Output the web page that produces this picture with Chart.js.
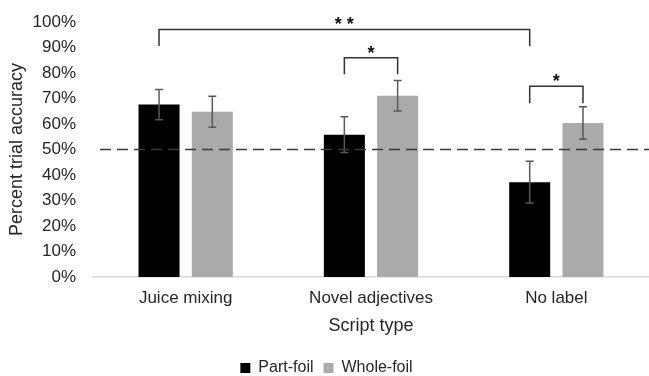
<!DOCTYPE html>
<html>
<head>
<meta charset="utf-8">
<script src="https://cdn.jsdelivr.net/npm/chart.js@4.4.1/dist/chart.umd.min.js"></script>
<style>
  html, body { margin: 0; padding: 0; background: #fff; }
  #wrap { width: 649px; height: 376px; position: relative; }
</style>
</head>
<body>
<div id="wrap"><canvas id="chart"></canvas></div>
<script>
// categories and series
const categories = ['Juice mixing', 'Novel adjectives', 'No label']
const partFoil = [67.6, 55.8, 37.2]
const wholeFoil = [64.8, 71.1, 60.4]
// error bar half-widths
const partFoilErr = [5.9, 7.0, 8.2]
const wholeFoilErr = [6.1, 6.0, 6.4]
const yTicks = [0, 10, 20, 30, 40, 50, 60, 70, 80, 90, 100]
const chanceLevel = 50

// significance brackets: [category, dataset] ends, top value, leg bottom value
const brackets = [
    { from: [0, 0], to: [2, 0], top: 97.1, leg: 90.6, label: '**' },
    { from: [1, 0], to: [1, 1], top: 86.0, leg: 79.5, label: '*' },
    { from: [2, 0], to: [2, 1], top: 74.8, leg: 68.1, label: '*' }
]

const fontFamily = '"Liberation Sans", Arial, sans-serif'
const textColor = '#262626'

const errorBarPlugin = {
    id: 'errorBars',
    afterDatasetsDraw(chart) {
        const ctx = chart.ctx
        const y = chart.scales.y
        const errs = [partFoilErr, wholeFoilErr]
        ctx.save()
        ctx.strokeStyle = '#595959'
        ctx.lineWidth = 1.5
        chart.data.datasets.forEach((ds, di) => {
            const meta = chart.getDatasetMeta(di)
            meta.data.forEach((bar, i) => {
                const v = ds.data[i]
                const e = errs[di][i]
                const top = y.getPixelForValue(v + e)
                const bot = y.getPixelForValue(v - e)
                ctx.beginPath()
                ctx.moveTo(bar.x, top)
                ctx.lineTo(bar.x, bot)
                ctx.moveTo(bar.x - 4, top)
                ctx.lineTo(bar.x + 4, top)
                ctx.moveTo(bar.x - 4, bot)
                ctx.lineTo(bar.x + 4, bot)
                ctx.stroke()
            })
        })
        ctx.restore()
    }
}

const chancePlugin = {
    id: 'chanceLine',
    afterDatasetsDraw(chart) {
        const ctx = chart.ctx
        const area = chart.chartArea
        const yy = chart.scales.y.getPixelForValue(chanceLevel)
        ctx.save()
        ctx.strokeStyle = '#3a3a3a'
        ctx.lineWidth = 1.5
        ctx.setLineDash([11, 6])
        ctx.beginPath()
        ctx.moveTo(area.left + 7, yy)
        ctx.lineTo(area.right, yy)
        ctx.stroke()
        ctx.restore()
    }
}

const bracketPlugin = {
    id: 'brackets',
    afterDatasetsDraw(chart) {
        const ctx = chart.ctx
        const y = chart.scales.y
        ctx.save()
        ctx.strokeStyle = '#333'
        ctx.lineWidth = 1.5
        ctx.fillStyle = '#111'
        ctx.font = 'bold 18px ' + fontFamily
        ctx.textAlign = 'center'
        ctx.textBaseline = 'middle'
        brackets.forEach(b => {
            const x1 = chart.getDatasetMeta(b.from[1]).data[b.from[0]].x
            const x2 = chart.getDatasetMeta(b.to[1]).data[b.to[0]].x
            const yt = y.getPixelForValue(b.top)
            const yl = y.getPixelForValue(b.leg)
            ctx.beginPath()
            ctx.moveTo(x1, yl)
            ctx.lineTo(x1, yt)
            ctx.lineTo(x2, yt)
            ctx.lineTo(x2, yl)
            ctx.stroke()
            ctx.fillText(b.label.split('').join(' '), (x1 + x2) / 2, yt - 4)
        })
        ctx.restore()
    }
}

new Chart(document.getElementById('chart'), {
    type: 'bar',
    data: {
        labels: categories,
        datasets: [
            { label: 'Part-foil', data: partFoil, backgroundColor: '#000000' },
            { label: 'Whole-foil', data: wholeFoil, backgroundColor: '#aba9a9' }
        ]
    },
    options: {
        responsive: true,
        maintainAspectRatio: false,
        animation: false,
        categoryPercentage: 0.575,
        barPercentage: 0.77,
        layout: { padding: { top: 22, right: 0, left: 4, bottom: -10 } },
        plugins: {
            legend: {
                position: 'bottom',
                labels: {
                    color: textColor,
                    boxWidth: 10,
                    boxHeight: 10,
                    padding: 10,
                    font: { family: fontFamily, size: 16 }
                }
            },
            tooltip: { enabled: false }
        },
        scales: {
            x: {
                grid: { display: false, drawTicks: false },
                border: { color: '#d9d9d9', width: 1.5 },
                ticks: { color: textColor, font: { family: fontFamily, size: 17 }, padding: 11 },
                title: { display: true, text: 'Script type', color: textColor, font: { family: fontFamily, size: 18 }, padding: { top: -4, bottom: 13 } }
            },
            y: {
                min: 0,
                max: 100,
                afterBuildTicks: axis => { axis.ticks = yTicks.map(v => ({ value: v })) },
                afterFit: axis => {
                    axis.width = 89
                    axis.paddingTop = 0
                    axis.paddingBottom = 0
                },
                grid: { display: false, drawTicks: false },
                border: { display: false },
                ticks: { color: textColor, font: { family: fontFamily, size: 17 }, padding: 17, callback: v => v + '%' },
                title: { display: true, text: 'Percent trial accuracy', color: textColor, font: { family: fontFamily, size: 18 }, padding: { top: 2, bottom: 4 } }
            }
        }
    },
    plugins: [errorBarPlugin, chancePlugin, bracketPlugin]
})
</script>
</body>
</html>
